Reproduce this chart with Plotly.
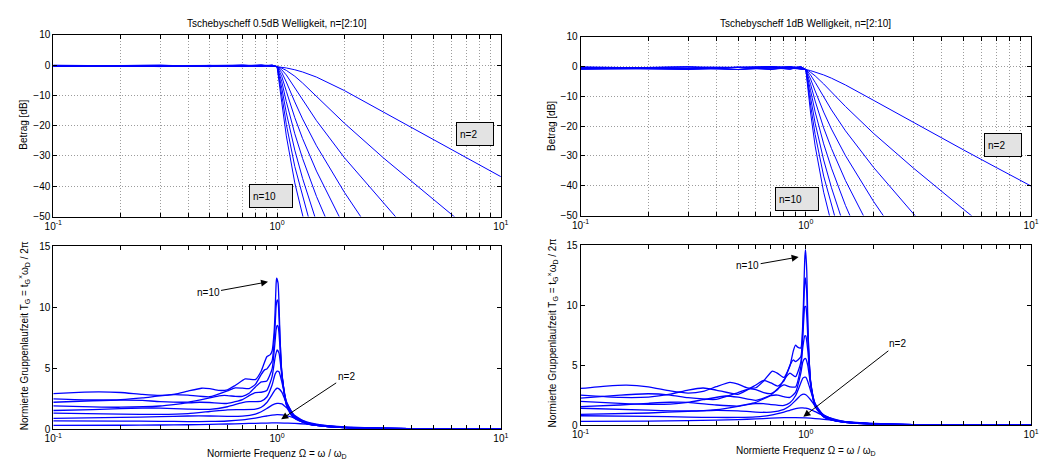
import plotly.graph_objects as go

# ---------------- data ----------------
ORDERS = [2, 3, 4, 5, 6, 7, 8, 9, 10]

# magnitude response, frequency points (normalized Omega)
MAG_X = [0.1, 0.3, 0.5, 0.7, 0.85, 0.95, 1.0, 1.05, 1.1, 1.2, 1.3, 1.5, 2, 3, 5, 7, 10]

# 0.5 dB ripple, magnitude [dB]
MAG05_N2 = [-0.48, -0.34, -0.13, 0.0, -0.10, -0.33, -0.5, -0.71, -0.96, -1.56, -2.28, -3.97, -8.43, -15.59, -24.66, -30.60, -36.84]
MAG05_N3 = [-0.05, -0.32, -0.50, -0.27, 0.0, -0.17, -0.5, -1.03, -1.76, -3.69, -5.93, -10.36, -19.21, -30.77, -44.57, -53.47, -62.8]
MAG05_N4 = [-0.43, -0.06, -0.13, -0.50, -0.19, -0.05, -0.5, -1.59, -3.27, -7.40, -11.46, -18.35, -30.60, -46.08, -64.5]
MAG05_N5 = [-0.12, -0.50, -0.13, -0.23, -0.44, 0.0, -0.5, -2.49, -5.61, -12.16, -17.78, -26.64, -42.03, -61.4]
MAG05_N6 = [-0.35, -0.03, -0.50, 0.0, -0.49, -0.06, -0.5, -3.80, -8.64, -17.36, -24.26, -35.00, -53.47]
MAG05_N7 = [-0.22, -0.37, -0.13, -0.29, -0.28, -0.19, -0.5, -5.52, -12.11, -22.68, -30.83, -43.36, -64.9]
MAG05_N8 = [-0.25, -0.30, -0.13, -0.50, -0.04, -0.35, -0.5, -7.61, -15.79, -28.09, -37.40, -51.72]
MAG05_N9 = [-0.31, -0.08, -0.50, -0.21, -0.04, -0.47, -0.5, -9.95, -19.57, -33.49, -43.97, -60.07]
MAG05_N10 = [-0.15, -0.50, -0.13, -0.01, -0.28, -0.50, -0.5, -12.46, -23.39, -38.90, -50.54, -68.4]

# 1 dB ripple, magnitude [dB]
MAG1_N2 = [-0.96, -0.70, -0.27, 0.0, -0.22, -0.67, -1.0, -1.39, -1.82, -2.82, -3.92, -6.20, -11.36, -18.80, -27.93, -33.87, -40.11]
MAG1_N3 = [-0.10, -0.65, -1.00, -0.56, -0.01, -0.36, -1.0, -1.95, -3.14, -5.84, -8.56, -13.41, -22.46, -34.04, -47.84, -56.74, -66.1]
MAG1_N4 = [-0.86, -0.13, -0.27, -1.00, -0.39, -0.10, -1.0, -2.88, -5.29, -10.23, -14.57, -21.58, -33.87, -49.35, -67.8]
MAG1_N5 = [-0.25, -1.00, -0.27, -0.48, -0.88, 0.0, -1.0, -4.22, -8.19, -15.29, -21.00, -29.91, -45.30, -64.7]
MAG1_N6 = [-0.71, -0.07, -1.00, 0.0, -0.97, -0.12, -1.0, -5.98, -11.58, -20.59, -27.53, -38.27, -56.74]
MAG1_N7 = [-0.44, -0.74, -0.27, -0.60, -0.57, -0.39, -1.0, -8.09, -15.23, -25.95, -34.10, -46.63, -68.2]
MAG1_N8 = [-0.51, -0.61, -0.27, -1.00, -0.08, -0.71, -1.0, -10.46, -19.00, -31.36, -40.67, -54.99]
MAG1_N9 = [-0.64, -0.17, -1.00, -0.44, -0.09, -0.93, -1.0, -12.98, -22.81, -36.76, -47.24, -63.3]
MAG1_N10 = [-0.32, -1.00, -0.27, -0.01, -0.58, -1.00, -1.0, -15.59, -26.65, -42.17, -53.81, -71.7]

# group delay, 0.5 dB ripple
GD05_X_N2 = [0.1, 0.2, 0.3, 0.4, 0.5, 0.6, 0.7, 0.8, 0.9, 1.0, 1.1, 1.2, 1.35, 1.5, 2, 3, 5, 10]
GD05_N2 = [0.30, 0.31, 0.33, 0.35, 0.38, 0.41, 0.44, 0.47, 0.49, 0.50, 0.48, 0.46, 0.40, 0.33, 0.175, 0.064, 0.020, 0.005]
GD05_X_N3 = [0.1, 0.2, 0.3, 0.4, 0.5, 0.6, 0.7, 0.8, 0.85, 0.9, 0.95, 1.0, 1.05, 1.1, 1.2, 1.35, 1.5, 2, 3, 5, 10]
GD05_N3 = [0.67, 0.65, 0.63, 0.61, 0.62, 0.66, 0.75, 0.90, 0.99, 1.07, 1.14, 1.18, 1.16, 1.10, 0.90, 0.59, 0.40, 0.15, 0.052, 0.017, 0.004]
GD05_X_N4 = [0.1, 0.2, 0.3, 0.4, 0.5, 0.6, 0.7, 0.8, 0.85, 0.9, 0.95, 1.0, 1.05, 1.1, 1.2, 1.35, 1.5, 2, 3, 5, 10]
GD05_N4 = [0.88, 0.95, 1.02, 1.07, 1.07, 1.04, 1.06, 1.23, 1.42, 1.68, 1.96, 2.10, 2.06, 1.76, 1.10, 0.57, 0.35, 0.135, 0.049, 0.016, 0.004]
GD05_X_N5 = [0.1, 0.2, 0.3, 0.4, 0.5, 0.6, 0.7, 0.8, 0.85, 0.9, 0.95, 0.98, 1.0, 1.02, 1.05, 1.1, 1.2, 1.35, 1.5, 2, 3, 5, 10]
GD05_N5 = [1.30, 1.22, 1.20, 1.27, 1.44, 1.58, 1.59, 1.63, 1.79, 2.18, 2.83, 3.22, 3.35, 3.30, 3.03, 2.17, 1.07, 0.52, 0.33, 0.128, 0.047, 0.016, 0.004]
GD05_X_N6 = [0.1, 0.15, 0.2, 0.25, 0.3, 0.4, 0.5, 0.6, 0.7, 0.75, 0.8, 0.85, 0.9, 0.95, 0.98, 1.0, 1.02, 1.05, 1.1, 1.2, 1.35, 1.5, 2, 3, 5, 10]
GD05_N6 = [1.52, 1.60, 1.67, 1.72, 1.72, 1.64, 1.62, 1.83, 2.17, 2.25, 2.25, 2.29, 2.63, 3.62, 4.51, 4.75, 4.70, 3.87, 2.29, 1.00, 0.49, 0.31, 0.126, 0.046, 0.016, 0.004]
GD05_X_N7 = [0.1, 0.15, 0.2, 0.3, 0.4, 0.45, 0.5, 0.6, 0.7, 0.75, 0.8, 0.85, 0.9, 0.95, 0.98, 1.0, 1.02, 1.05, 1.1, 1.2, 1.35, 1.5, 2, 3, 5, 10]
GD05_N7 = [1.90, 1.82, 1.79, 1.89, 2.14, 2.20, 2.18, 2.10, 2.42, 2.74, 2.99, 3.02, 3.17, 4.31, 5.87, 6.50, 6.25, 4.42, 2.23, 0.94, 0.47, 0.30, 0.123, 0.046, 0.016, 0.004]
GD05_X_N8 = [0.1, 0.15, 0.2, 0.25, 0.3, 0.4, 0.5, 0.55, 0.6, 0.65, 0.7, 0.75, 0.8, 0.85, 0.9, 0.95, 0.98, 0.99, 1.0, 1.01, 1.02, 1.05, 1.1, 1.2, 1.35, 1.5, 2, 3, 5, 10]
GD05_N8 = [2.20, 2.32, 2.38, 2.35, 2.25, 2.21, 2.55, 2.73, 2.75, 2.68, 2.69, 2.94, 3.46, 3.87, 3.94, 4.93, 7.22, 8.14, 8.50, 8.45, 7.86, 4.65, 2.13, 0.94, 0.46, 0.30, 0.123, 0.046, 0.016, 0.004]
GD05_X_N9 = [0.1, 0.15, 0.2, 0.25, 0.3, 0.35, 0.4, 0.5, 0.6, 0.65, 0.7, 0.75, 0.8, 0.85, 0.88, 0.9, 0.95, 0.98, 0.99, 1.0, 1.01, 1.02, 1.05, 1.1, 1.2, 1.35, 1.5, 2, 3, 5, 10]
GD05_N9 = [2.48, 2.39, 2.41, 2.55, 2.73, 2.83, 2.78, 2.65, 3.14, 3.38, 3.36, 3.32, 3.67, 4.49, 4.86, 4.93, 5.59, 8.50, 10.03, 10.60, 10.50, 9.25, 4.65, 2.03, 0.88, 0.46, 0.30, 0.122, 0.046, 0.016, 0.004]
GD05_X_N10 = [0.1, 0.13, 0.16, 0.2, 0.25, 0.3, 0.35, 0.4, 0.46, 0.5, 0.55, 0.6, 0.65, 0.72, 0.75, 0.8, 0.85, 0.9, 0.93, 0.95, 0.97, 0.98, 0.99, 0.995, 1.01, 1.02, 1.03, 1.05, 1.1, 1.15, 1.2, 1.35, 1.5, 2, 3, 5, 10]
GD05_N10 = [2.91, 3.01, 3.05, 3.00, 2.84, 2.76, 2.87, 3.12, 3.35, 3.31, 3.17, 3.22, 3.58, 4.11, 4.10, 4.06, 4.77, 5.94, 6.09, 6.41, 7.96, 9.67, 11.90, 12.40, 12.00, 10.37, 7.76, 4.53, 1.96, 1.21, 0.87, 0.45, 0.30, 0.122, 0.046, 0.016, 0.004]

# group delay, 1 dB ripple
GD1_X_N2 = [0.1, 0.2, 0.3, 0.4, 0.5, 0.6, 0.7, 0.8, 0.9, 1.0, 1.1, 1.2, 1.35, 1.5, 2, 3, 5, 10]
GD1_N2 = [0.32, 0.34, 0.37, 0.41, 0.46, 0.52, 0.58, 0.62, 0.63, 0.60, 0.55, 0.48, 0.38, 0.29, 0.135, 0.048, 0.015, 0.004]
GD1_X_N3 = [0.1, 0.2, 0.3, 0.4, 0.5, 0.6, 0.7, 0.8, 0.85, 0.9, 0.95, 0.97, 1.0, 1.05, 1.1, 1.2, 1.35, 1.5, 2, 3, 5, 10]
GD1_N3 = [0.78, 0.73, 0.67, 0.64, 0.64, 0.69, 0.84, 1.09, 1.24, 1.37, 1.44, 1.44, 1.41, 1.29, 1.12, 0.79, 0.47, 0.30, 0.116, 0.041, 0.013, 0.003]
GD1_X_N4 = [0.1, 0.2, 0.3, 0.4, 0.5, 0.6, 0.7, 0.8, 0.85, 0.9, 0.95, 0.98, 1.0, 1.05, 1.1, 1.2, 1.35, 1.5, 2, 3, 5, 10]
GD1_N4 = [0.90, 1.01, 1.15, 1.23, 1.19, 1.09, 1.08, 1.32, 1.61, 2.05, 2.49, 2.59, 2.54, 2.12, 1.58, 0.86, 0.44, 0.27, 0.106, 0.042, 0.014, 0.0035]
GD1_X_N5 = [0.1, 0.2, 0.3, 0.4, 0.5, 0.55, 0.6, 0.65, 0.7, 0.8, 0.85, 0.9, 0.95, 0.97, 0.99, 1.0, 1.02, 1.05, 1.1, 1.2, 1.35, 1.5, 2, 3, 5, 10]
GD1_N5 = [1.41, 1.25, 1.18, 1.29, 1.57, 1.72, 1.80, 1.79, 1.71, 1.64, 1.86, 2.45, 3.53, 3.92, 4.00, 3.99, 3.65, 2.87, 1.78, 0.82, 0.40, 0.26, 0.102, 0.040, 0.014, 0.0035]
GD1_X_N6 = [0.1, 0.15, 0.2, 0.25, 0.3, 0.4, 0.5, 0.6, 0.7, 0.75, 0.8, 0.85, 0.9, 0.95, 0.97, 0.99, 1.0, 1.02, 1.05, 1.1, 1.2, 1.35, 1.5, 2, 3, 5, 10]
GD1_N6 = [1.54, 1.68, 1.82, 1.91, 1.90, 1.68, 1.59, 1.90, 2.46, 2.51, 2.37, 2.31, 2.73, 4.34, 5.30, 5.56, 5.54, 4.98, 3.38, 1.78, 0.77, 0.38, 0.25, 0.100, 0.040, 0.014, 0.0035]
GD1_X_N7 = [0.1, 0.15, 0.2, 0.25, 0.3, 0.35, 0.44, 0.5, 0.6, 0.7, 0.75, 0.8, 0.85, 0.9, 0.95, 0.97, 0.99, 1.0, 1.02, 1.05, 1.1, 1.2, 1.35, 1.5, 2, 3, 5, 10]
GD1_N7 = [1.98, 1.82, 1.74, 1.76, 1.90, 2.12, 2.43, 2.33, 2.07, 2.51, 3.04, 3.36, 3.20, 3.19, 4.87, 6.52, 7.46, 7.44, 6.27, 3.62, 1.71, 0.74, 0.37, 0.24, 0.100, 0.040, 0.014, 0.0035]
GD1_X_N8 = [0.1, 0.15, 0.2, 0.25, 0.3, 0.4, 0.5, 0.56, 0.6, 0.65, 0.7, 0.75, 0.8, 0.85, 0.9, 0.95, 0.97, 0.98, 0.99, 1.0, 1.01, 1.02, 1.05, 1.1, 1.2, 1.35, 1.5, 2, 3, 5, 10]
GD1_N8 = [2.26, 2.50, 2.62, 2.51, 2.29, 2.15, 2.72, 3.03, 2.97, 2.72, 2.63, 2.97, 3.79, 4.34, 4.04, 5.24, 7.44, 8.97, 9.90, 9.90, 9.13, 7.40, 3.66, 1.64, 0.71, 0.37, 0.24, 0.099, 0.040, 0.014, 0.0035]
GD1_X_N9 = [0.1, 0.15, 0.2, 0.25, 0.3, 0.35, 0.4, 0.5, 0.6, 0.65, 0.7, 0.75, 0.8, 0.85, 0.88, 0.9, 0.95, 0.97, 0.98, 0.99, 0.995, 1.01, 1.02, 1.05, 1.1, 1.2, 1.35, 1.5, 2, 3, 5, 10]
GD1_N9 = [2.50, 2.31, 2.34, 2.58, 2.93, 3.10, 2.93, 2.57, 3.35, 3.73, 3.52, 3.26, 3.69, 4.99, 5.45, 5.30, 5.71, 8.08, 10.31, 12.10, 12.30, 11.00, 8.26, 3.59, 1.57, 0.70, 0.37, 0.24, 0.099, 0.040, 0.014, 0.0035]
GD1_X_N10 = [0.1, 0.13, 0.16, 0.2, 0.25, 0.3, 0.35, 0.4, 0.46, 0.5, 0.55, 0.6, 0.65, 0.71, 0.75, 0.8, 0.85, 0.88, 0.9, 0.92, 0.95, 0.97, 0.98, 0.99, 0.997, 1.01, 1.02, 1.03, 1.05, 1.1, 1.2, 1.35, 1.5, 2, 3, 5, 10]
GD1_N10 = [3.06, 3.26, 3.34, 3.19, 2.85, 2.67, 2.81, 3.21, 3.57, 3.43, 3.11, 3.12, 3.69, 4.51, 4.32, 3.98, 4.94, 6.20, 6.68, 6.51, 6.45, 8.59, 11.35, 14.00, 14.65, 12.80, 8.85, 6.16, 3.48, 1.53, 0.69, 0.36, 0.24, 0.098, 0.040, 0.014, 0.0035]

# axis ticks / labels
DECADE_TICKS = [0.1, 1, 10]
DECADE_TICKTEXT = ['10<sup>-1</sup>', '10<sup>0</sup>', '10<sup>1</sup>']
MINOR_TICKS = [0.2, 0.3, 0.4, 0.5, 0.6, 0.7, 0.8, 0.9, 2, 3, 4, 5, 6, 7, 8, 9]
MAG_TICKS = [-50, -40, -30, -20, -10, 0, 10]
GD_TICKS = [0, 5, 10, 15]

TITLE_05 = 'Tschebyscheff 0.5dB Welligkeit, n=[2:10]'
TITLE_1 = 'Tschebyscheff 1dB Welligkeit, n=[2:10]'
YLABEL_MAG = 'Betrag [dB]'
YLABEL_GD = 'Normierte Gruppenlaufzeit T<sub>G</sub> = t<sub>G</sub><sup>×</sup>ω<sub>D</sub> / 2π'
XLABEL = 'Normierte Frequenz Ω = ω / ω<sub>D</sub>'

# ---------------- figure ----------------
W, H = 1045, 474
FONT = 'Liberation Sans, Arial, Helvetica, sans-serif'
BLUE = '#0000ff'
GRID = '#9c9c9c'
GRID_DASH = '1px,2px'


def px_x(p):
    return p / W


def px_y(p):
    return 1 - p / H


mag05 = [MAG05_N2, MAG05_N3, MAG05_N4, MAG05_N5, MAG05_N6, MAG05_N7, MAG05_N8, MAG05_N9, MAG05_N10]
mag1 = [MAG1_N2, MAG1_N3, MAG1_N4, MAG1_N5, MAG1_N6, MAG1_N7, MAG1_N8, MAG1_N9, MAG1_N10]
gd05 = [(GD05_X_N2, GD05_N2), (GD05_X_N3, GD05_N3), (GD05_X_N4, GD05_N4), (GD05_X_N5, GD05_N5),
        (GD05_X_N6, GD05_N6), (GD05_X_N7, GD05_N7), (GD05_X_N8, GD05_N8), (GD05_X_N9, GD05_N9),
        (GD05_X_N10, GD05_N10)]
gd1 = [(GD1_X_N2, GD1_N2), (GD1_X_N3, GD1_N3), (GD1_X_N4, GD1_N4), (GD1_X_N5, GD1_N5),
       (GD1_X_N6, GD1_N6), (GD1_X_N7, GD1_N7), (GD1_X_N8, GD1_N8), (GD1_X_N9, GD1_N9),
       (GD1_X_N10, GD1_N10)]

fig = go.Figure()

for vals in mag05:
    fig.add_trace(go.Scatter(x=MAG_X[:len(vals)], y=vals, mode='lines',
                             line=dict(color=BLUE, width=1), xaxis='x', yaxis='y'))
for xs, ys in gd05:
    fig.add_trace(go.Scatter(x=xs, y=ys, mode='lines',
                             line=dict(color=BLUE, width=1.3, shape='spline', smoothing=0.5),
                             xaxis='x2', yaxis='y2'))
for vals in mag1:
    fig.add_trace(go.Scatter(x=MAG_X[:len(vals)], y=vals, mode='lines',
                             line=dict(color=BLUE, width=1), xaxis='x3', yaxis='y3'))
for xs, ys in gd1:
    fig.add_trace(go.Scatter(x=xs, y=ys, mode='lines',
                             line=dict(color=BLUE, width=1.3, shape='spline', smoothing=0.5),
                             xaxis='x4', yaxis='y4'))


def xaxis(domain, anchor, grid):
    return dict(type='log', range=[-1, 1], domain=domain, anchor=anchor,
                tickmode='array', tickvals=DECADE_TICKS, ticktext=DECADE_TICKTEXT,
                ticks='inside', ticklen=4, tickcolor='black', tickwidth=1,
                minor=dict(tickmode='array', tickvals=MINOR_TICKS, ticks='inside', ticklen=4,
                           tickcolor='black', tickwidth=1, showgrid=grid, gridcolor=GRID,
                           griddash=GRID_DASH, gridwidth=1),
                showline=True, linecolor='black', linewidth=1, mirror='allticks',
                showgrid=grid, gridcolor=GRID, griddash=GRID_DASH, gridwidth=1,
                zeroline=False, layer='above traces',
                tickfont=dict(family=FONT, size=10, color='black'))


def yaxis(domain, anchor, rng, ticks, grid):
    return dict(range=rng, domain=domain, anchor=anchor,
                tickmode='array', tickvals=ticks,
                ticks='inside', ticklen=4, tickcolor='black', tickwidth=1,
                showline=True, linecolor='black', linewidth=1, mirror='allticks',
                showgrid=grid, gridcolor=GRID, griddash=GRID_DASH, gridwidth=1,
                zeroline=False, layer='above traces',
                tickfont=dict(family=FONT, size=10, color='black'))


LX = [px_x(45), px_x(500)]
RX = [px_x(581), px_x(1039)]
LT = [px_y(216), px_y(29.5)]
LB = [px_y(434), px_y(246.7)]
RT = [px_y(215), px_y(31.5)]
RB = [px_y(430), px_y(245.7)]

annots = []


def text(x, y, s, angle=0, size=10):
    annots.append(dict(x=px_x(x), y=px_y(y), xref='paper', yref='paper', text=s,
                       showarrow=False, textangle=angle, xanchor='center', yanchor='middle',
                       font=dict(family=FONT, size=size, color='black')))


def box(x, y, w, s):
    annots.append(dict(x=px_x(x), y=px_y(y), xref='paper', yref='paper', text=s,
                       showarrow=False, xanchor='left', yanchor='top', align='left',
                       width=w, height=16, bgcolor='#e3e3e3', bordercolor='black',
                       borderwidth=1, borderpad=3,
                       font=dict(family=FONT, size=10, color='black')))


def arrow(hx, hy, ax, ay, s):
    annots.append(dict(x=px_x(hx), y=px_y(hy), xref='paper', yref='paper', text=s,
                       showarrow=True, ax=ax, ay=ay, arrowhead=2, arrowsize=1.4,
                       arrowwidth=1, arrowcolor='black', standoff=0,
                       font=dict(family=FONT, size=10, color='black')))


text(272.5, 18, TITLE_05)
text(810, 18, TITLE_1)
text(15, 122, YLABEL_MAG, angle=-90)
text(552, 123, YLABEL_MAG, angle=-90)
text(15, 338, YLABEL_GD, angle=-90)
text(552, 336, YLABEL_GD, angle=-90)
text(272.5, 460, XLABEL)
text(810, 457, XLABEL)

box(454, 119.5, 30, 'n=2')
box(243.5, 183, 36, 'n=10')
box(991.5, 130.5, 30, 'n=2')
box(779, 185.5, 36, 'n=10')

arrow(263.3, 283, -60, 11, 'n=10')
arrow(276.7, 424, 65, -43, 'n=2')
arrow(802.7, 257.5, -51, 9, 'n=10')
arrow(807.5, 421.5, 94, -73, 'n=2')

fig.update_layout(
    width=W, height=H, autosize=False,
    margin=dict(l=0, r=0, t=0, b=0),
    paper_bgcolor='white', plot_bgcolor='white',
    showlegend=False,
    font=dict(family=FONT, size=10, color='black'),
    xaxis=xaxis(LX, 'y', True),
    yaxis=yaxis(LT, 'x', [-50, 10], MAG_TICKS, True),
    xaxis2=xaxis(LX, 'y2', False),
    yaxis2=yaxis(LB, 'x2', [0, 15], GD_TICKS, False),
    xaxis3=xaxis(RX, 'y3', True),
    yaxis3=yaxis(RT, 'x3', [-50, 10], MAG_TICKS, True),
    xaxis4=xaxis(RX, 'y4', False),
    yaxis4=yaxis(RB, 'x4', [0, 15], GD_TICKS, False),
    annotations=annots,
)

fig.write_html('out.html', config={'displayModeBar': False})
